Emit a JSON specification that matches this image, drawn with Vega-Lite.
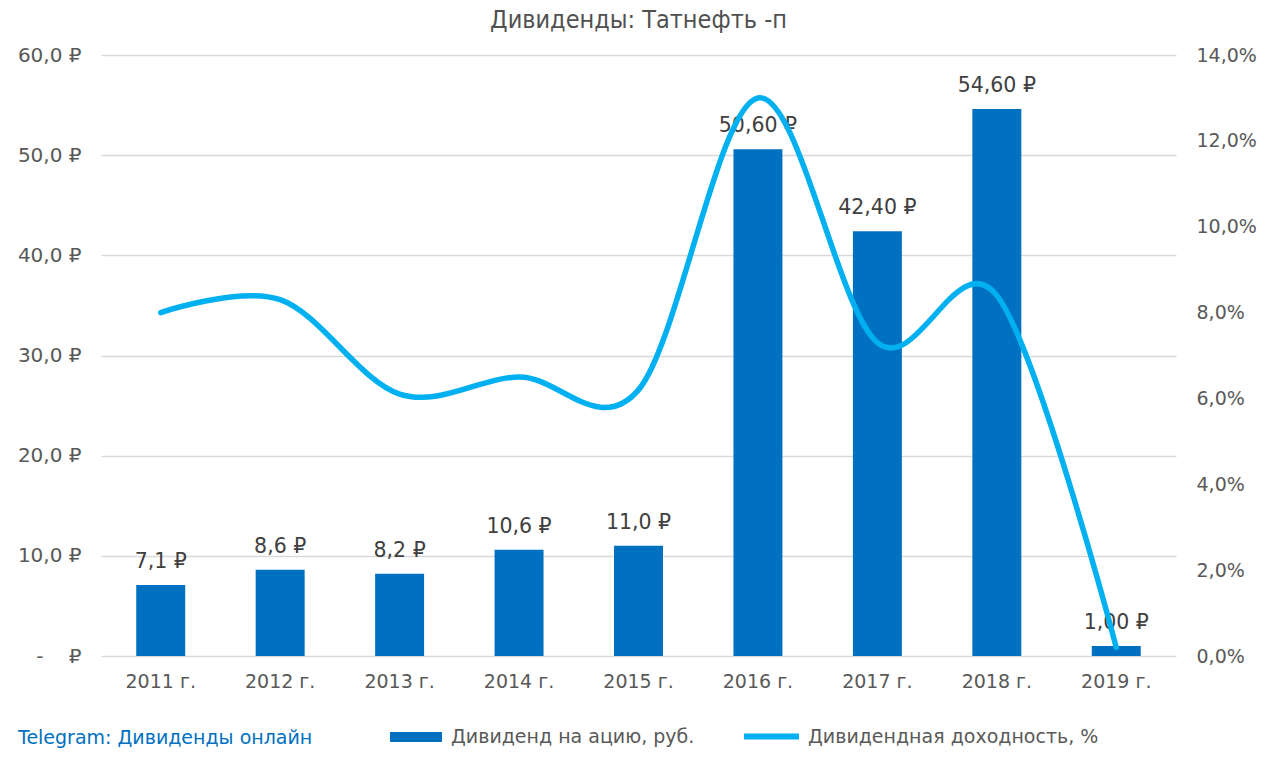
{
  "$schema": "https://vega.github.io/schema/vega-lite/v6.json",
  "width": 1075,
  "height": 601,
  "autosize": {"type": "none"},
  "padding": {"left": 101, "top": 55, "right": 96, "bottom": 108},
  "background": "white",
  "config": {
    "view": {"stroke": null},
    "font": "DejaVu Sans"
  },
  "title": {
    "text": "Дивиденды: Татнефть -п",
    "font": "DejaVu Sans Condensed, Roboto",
    "fontSize": 25,
    "fontWeight": "normal",
    "color": "#505050",
    "anchor": "middle",
    "offset": 12
  },
  "data": {
    "values": [
      {"year": "2011 г.", "div": 7.1, "label": "7,1 ₽", "yield": 8.0, "bar": "Дивиденд на ацию, руб.", "ln": "Дивидендная доходность, %"},
      {"year": "2012 г.", "div": 8.6, "label": "8,6 ₽", "yield": 8.3, "bar": "Дивиденд на ацию, руб.", "ln": "Дивидендная доходность, %"},
      {"year": "2013 г.", "div": 8.2, "label": "8,2 ₽", "yield": 6.1, "bar": "Дивиденд на ацию, руб.", "ln": "Дивидендная доходность, %"},
      {"year": "2014 г.", "div": 10.6, "label": "10,6 ₽", "yield": 6.5, "bar": "Дивиденд на ацию, руб.", "ln": "Дивидендная доходность, %"},
      {"year": "2015 г.", "div": 11.0, "label": "11,0 ₽", "yield": 6.2, "bar": "Дивиденд на ацию, руб.", "ln": "Дивидендная доходность, %"},
      {"year": "2016 г.", "div": 50.6, "label": "50,60 ₽", "yield": 13.0, "bar": "Дивиденд на ацию, руб.", "ln": "Дивидендная доходность, %"},
      {"year": "2017 г.", "div": 42.4, "label": "42,40 ₽", "yield": 7.3, "bar": "Дивиденд на ацию, руб.", "ln": "Дивидендная доходность, %"},
      {"year": "2018 г.", "div": 54.6, "label": "54,60 ₽", "yield": 8.4, "bar": "Дивиденд на ацию, руб.", "ln": "Дивидендная доходность, %"},
      {"year": "2019 г.", "div": 1.0, "label": "1,00 ₽", "yield": 0.2, "bar": "Дивиденд на ацию, руб.", "ln": "Дивидендная доходность, %"}
    ]
  },
  "encoding": {
    "x": {
      "field": "year", "type": "ordinal", "sort": null,
      "scale": {"paddingInner": 0.59, "paddingOuter": 0.295},
      "axis": {
        "title": null, "labelAngle": 0, "domain": false, "ticks": false,
        "labelFont": "DejaVu Sans", "labelFontSize": 19, "labelColor": "#595959",
        "labelPadding": 16
      }
    }
  },
  "layer": [
    {
      "layer": [
        {
          "mark": {"type": "bar"},
          "encoding": {
            "y": {
              "field": "div", "type": "quantitative",
              "scale": {"domain": [0, 60]},
              "axis": {
                "title": null, "values": [0, 10, 20, 30, 40, 50, 60],
                "domain": false, "ticks": false,
                "gridColor": "#D9D9D9", "gridWidth": 1.5,
                "labelFont": "DejaVu Sans", "labelFontSize": 20, "labelColor": "#595959",
                "labelPadding": 20,
                "labelExpr": "datum.value == 0 ? '-\u00a0\u00a0\u00a0\u00a0₽' : replace(format(datum.value, '.1f'), '.', ',') + ' ₽'"
              }
            },
            "color": {
              "field": "bar", "type": "nominal",
              "scale": {"range": ["#0070C0"]},
              "legend": {
                "title": "Telegram: Дивиденды онлайн",
                "orient": "none", "legendX": -83, "legendY": 656,
                "direction": "horizontal",
                "titleOrient": "left", "titleFont": "DejaVu Sans", "titleFontSize": 19,
                "titleFontWeight": "normal", "titleColor": "#0070C0", "titlePadding": 77,
                "titleBaseline": "top", "titleLimit": 500,
                "symbolType": "M-1,-0.19H1V0.19H-1Z", "symbolSize": 2704,
                "symbolStrokeWidth": 0, "symbolOpacity": 1,
                "labelFont": "DejaVu Sans", "labelFontSize": 19, "labelColor": "#595959",
                "labelOffset": 9, "labelLimit": 500
              }
            }
          }
        },
        {
          "mark": {"type": "text", "baseline": "bottom", "dy": -13, "fontSize": 20.5, "font": "DejaVu Sans", "color": "#404040"},
          "encoding": {
            "y": {"field": "div", "type": "quantitative", "scale": {"domain": [0, 60]}},
            "text": {"field": "label"}
          }
        }
      ]
    },
    {
      "mark": {"type": "line", "interpolate": "cardinal", "strokeWidth": 5.5, "strokeCap": "round"},
      "encoding": {
        "y": {
          "field": "yield", "type": "quantitative",
          "scale": {"domain": [0, 14]},
          "axis": {
            "title": null, "orient": "right", "values": [0, 2, 4, 6, 8, 10, 12, 14],
            "grid": false, "domain": false, "ticks": false,
            "labelFont": "DejaVu Sans", "labelFontSize": 19, "labelColor": "#595959",
            "labelPadding": 20,
            "labelExpr": "replace(format(datum.value, '.1f'), '.', ',') + '%'"
          }
        },
        "stroke": {
          "field": "ln", "type": "nominal",
          "scale": {"range": ["#00B0F0"]},
          "legend": {
            "title": null,
            "orient": "none", "legendX": 640, "legendY": 651,
            "direction": "horizontal",
            "symbolType": "stroke", "symbolSize": 3025, "symbolStrokeWidth": 6,
            "labelFont": "DejaVu Sans", "labelFontSize": 19, "labelColor": "#595959",
            "labelOffset": 6, "labelLimit": 500
          }
        }
      }
    }
  ],
  "resolve": {"scale": {"y": "independent"}}
}
